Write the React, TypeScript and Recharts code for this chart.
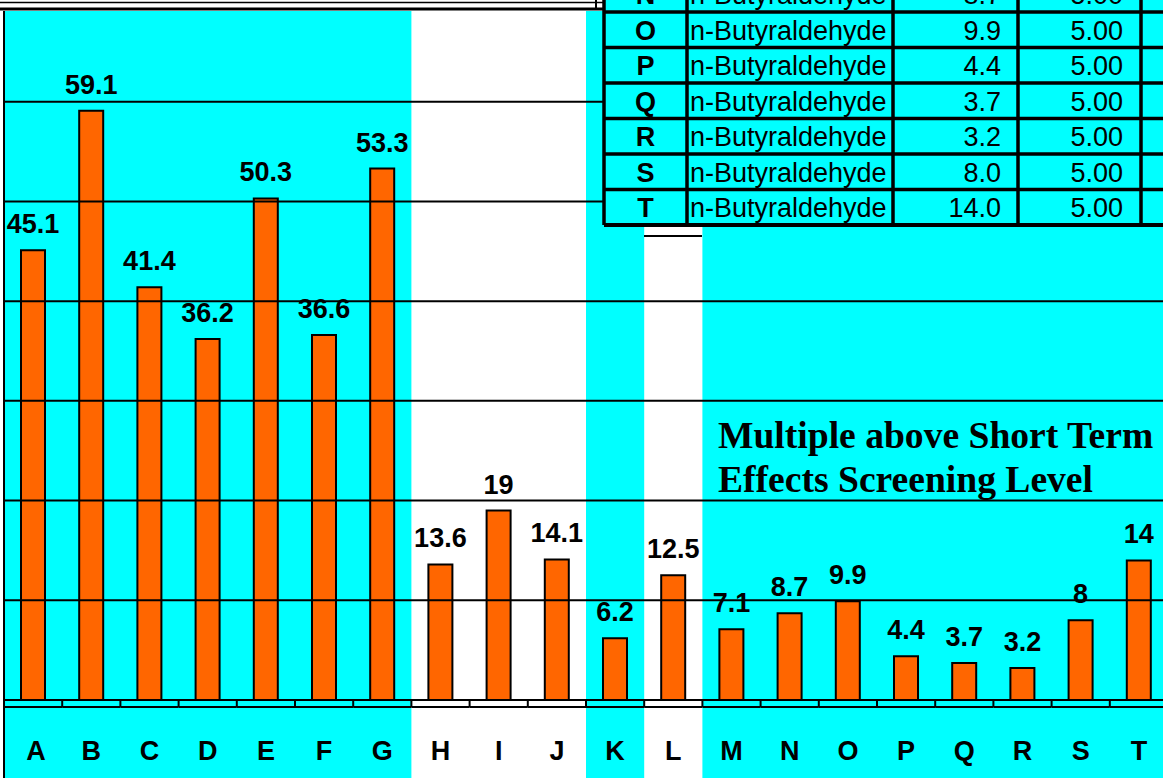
import React from 'react';
import { BarChart, Bar, XAxis, YAxis, ReferenceArea, ReferenceLine, LabelList } from 'recharts';

// sites along the x axis and the measured concentration at each
const categories = ['A', 'B', 'C', 'D', 'E', 'F', 'G', 'H', 'I', 'J', 'K', 'L', 'M', 'N', 'O', 'P', 'Q', 'R', 'S', 'T'];
const concentrations = [45.1, 59.1, 41.4, 36.2, 50.3, 36.6, 53.3, 13.6, 19, 14.1, 6.2, 12.5, 7.1, 8.7, 9.9, 4.4, 3.7, 3.2, 8, 14];
const yTicks = [0, 10, 20, 30, 40, 50, 60];

// groups of sites shaded cyan
const cyanRanges: [string, string][] = [['A', 'G'], ['K', 'K'], ['M', 'T']];

// overlay table (partly cut off at the top of the picture)
const tableSites = ['N', 'O', 'P', 'Q', 'R', 'S', 'T'];
const tableCompound = 'n-Butyraldehyde';
const screeningLevels = [5, 5, 5, 5, 5, 5, 5];

const data = categories.map((site, i) => ({ site, value: concentrations[i] }));

const CYAN = '#00FFFF';
const ORANGE = '#FF6600';
const SANS = '"Liberation Sans", Arial, sans-serif';
const SERIF = '"Liberation Serif", "Times New Roman", serif';

const CHART_W = 1168;
const CHART_H = 790;
const Y_AXIS_W = 4;
const TOP = 11;
const X_AXIS_H = 90;
const BAND = (CHART_W - Y_AXIS_W) / categories.length;

const TABLE_COLS = [604, 687, 893, 1018, 1141, 1180];
const TABLE_TOP = -23.5;
const ROW_H = 35.5;

function SiteTick(props: any) {
  const { x, y, payload, index } = props;
  const left = x - BAND / 2;
  return (
    <g>
      <line x1={left} x2={left + BAND} y1={y + 7} y2={y + 7} stroke="#000" strokeWidth={2} />
      <line x1={left} x2={left} y1={y} y2={index === 0 ? y + X_AXIS_H : y + 7} stroke="#000" strokeWidth={2} />
      <text x={x + (index === 0 ? 3 : 0)} y={y + 60} textAnchor="middle" fontFamily={SANS} fontWeight="bold" fontSize={27} fill="#000">
        {payload.value}
      </text>
    </g>
  );
}

function Overlay() {
  const tableBottom = TABLE_TOP + ROW_H * tableSites.length;
  return (
    <svg width={1163} height={778} style={{ position: 'absolute', left: 0, top: 0, pointerEvents: 'none' }}>
      {/* leftovers of the frame above */}
      <line x1={0} x2={604} y1={2.5} y2={2.5} stroke="#000" strokeWidth={1.5} />
      <line x1={0} x2={604} y1={9} y2={9} stroke="#000" strokeWidth={3} />
      <line x1={596} x2={596} y1={0} y2={9} stroke="#000" strokeWidth={2} />
      <line x1={644} x2={702} y1={236} y2={236} stroke="#000" strokeWidth={2} />

      {/* table */}
      <rect x={TABLE_COLS[0]} y={TABLE_TOP} width={TABLE_COLS[5] - TABLE_COLS[0]} height={tableBottom - TABLE_TOP} fill={CYAN} />
      {tableSites.map((site, i) => {
        const top = TABLE_TOP + i * ROW_H;
        const base = top + ROW_H / 2 + 10;
        const v = concentrations[categories.indexOf(site)];
        return (
          <g key={site} fontFamily={SANS} fontSize={27} fill="#000">
            <text x={(TABLE_COLS[0] + TABLE_COLS[1]) / 2} y={base} textAnchor="middle" fontWeight="bold">{site}</text>
            <text x={TABLE_COLS[1] + 3} y={base}>{tableCompound}</text>
            <text x={TABLE_COLS[3] - 17} y={base} textAnchor="end">{v.toFixed(1)}</text>
            <text x={TABLE_COLS[4] - 18} y={base} textAnchor="end">{screeningLevels[i].toFixed(2)}</text>
            <line x1={TABLE_COLS[0]} x2={TABLE_COLS[5]} y1={top + ROW_H} y2={top + ROW_H} stroke="#000" strokeWidth={3.5} />
          </g>
        );
      })}
      {TABLE_COLS.slice(0, 5).map((cx) => (
        <line key={cx} x1={cx} x2={cx} y1={TABLE_TOP} y2={tableBottom} stroke="#000" strokeWidth={3.5} />
      ))}
      <line x1={TABLE_COLS[0]} x2={TABLE_COLS[5]} y1={tableBottom} y2={tableBottom} stroke="#000" strokeWidth={4} />

      {/* annotation */}
      <g fontFamily={SERIF} fontWeight="bold" fontSize={37.6} fill="#000">
        <text x={718} y={448}>Multiple above Short Term</text>
        <text x={718} y={492}>Effects Screening Level</text>
      </g>
    </svg>
  );
}

export default function App() {
  return (
    <div style={{ position: 'absolute', left: 0, top: 0, width: 1163, height: 778, overflow: 'hidden', background: '#fff' }}>
      <BarChart
        width={CHART_W}
        height={CHART_H}
        data={data}
        margin={{ top: TOP, right: 0, bottom: 0, left: 0 }}
      >
        {cyanRanges.map(([a, b]) => (
          <ReferenceArea
            key={a}
            x1={a}
            x2={b}
            y1={-9.6}
            y2={69.1}
            fill={CYAN}
            fillOpacity={1}
            stroke="none"
            ifOverflow="visible"
          />
        ))}
        {yTicks.map((t) => (
          <ReferenceLine key={t} y={t} stroke="#000" strokeWidth={2} />
        ))}
        <XAxis
          dataKey="site"
          interval={0}
          height={X_AXIS_H}
          tickSize={0}
          tickMargin={0}
          tickLine={false}
          axisLine={{ stroke: '#000', strokeWidth: 2 }}
          tick={<SiteTick />}
        />
        <YAxis
          domain={[0, 69.1]}
          allowDataOverflow
          ticks={yTicks}
          width={Y_AXIS_W}
          tick={false}
          tickSize={4}
          tickLine={{ stroke: '#000', strokeWidth: 2 }}
          axisLine={{ stroke: '#000', strokeWidth: 2 }}
        />
        <Bar dataKey="value" fill={ORANGE} stroke="#000" strokeWidth={2} barSize={24} isAnimationActive={false}>
          <LabelList dataKey="value" position="top" offset={17} fill="#000" fontSize={27} fontWeight="bold" fontFamily={SANS} />
        </Bar>
      </BarChart>
      <Overlay />
    </div>
  );
}
